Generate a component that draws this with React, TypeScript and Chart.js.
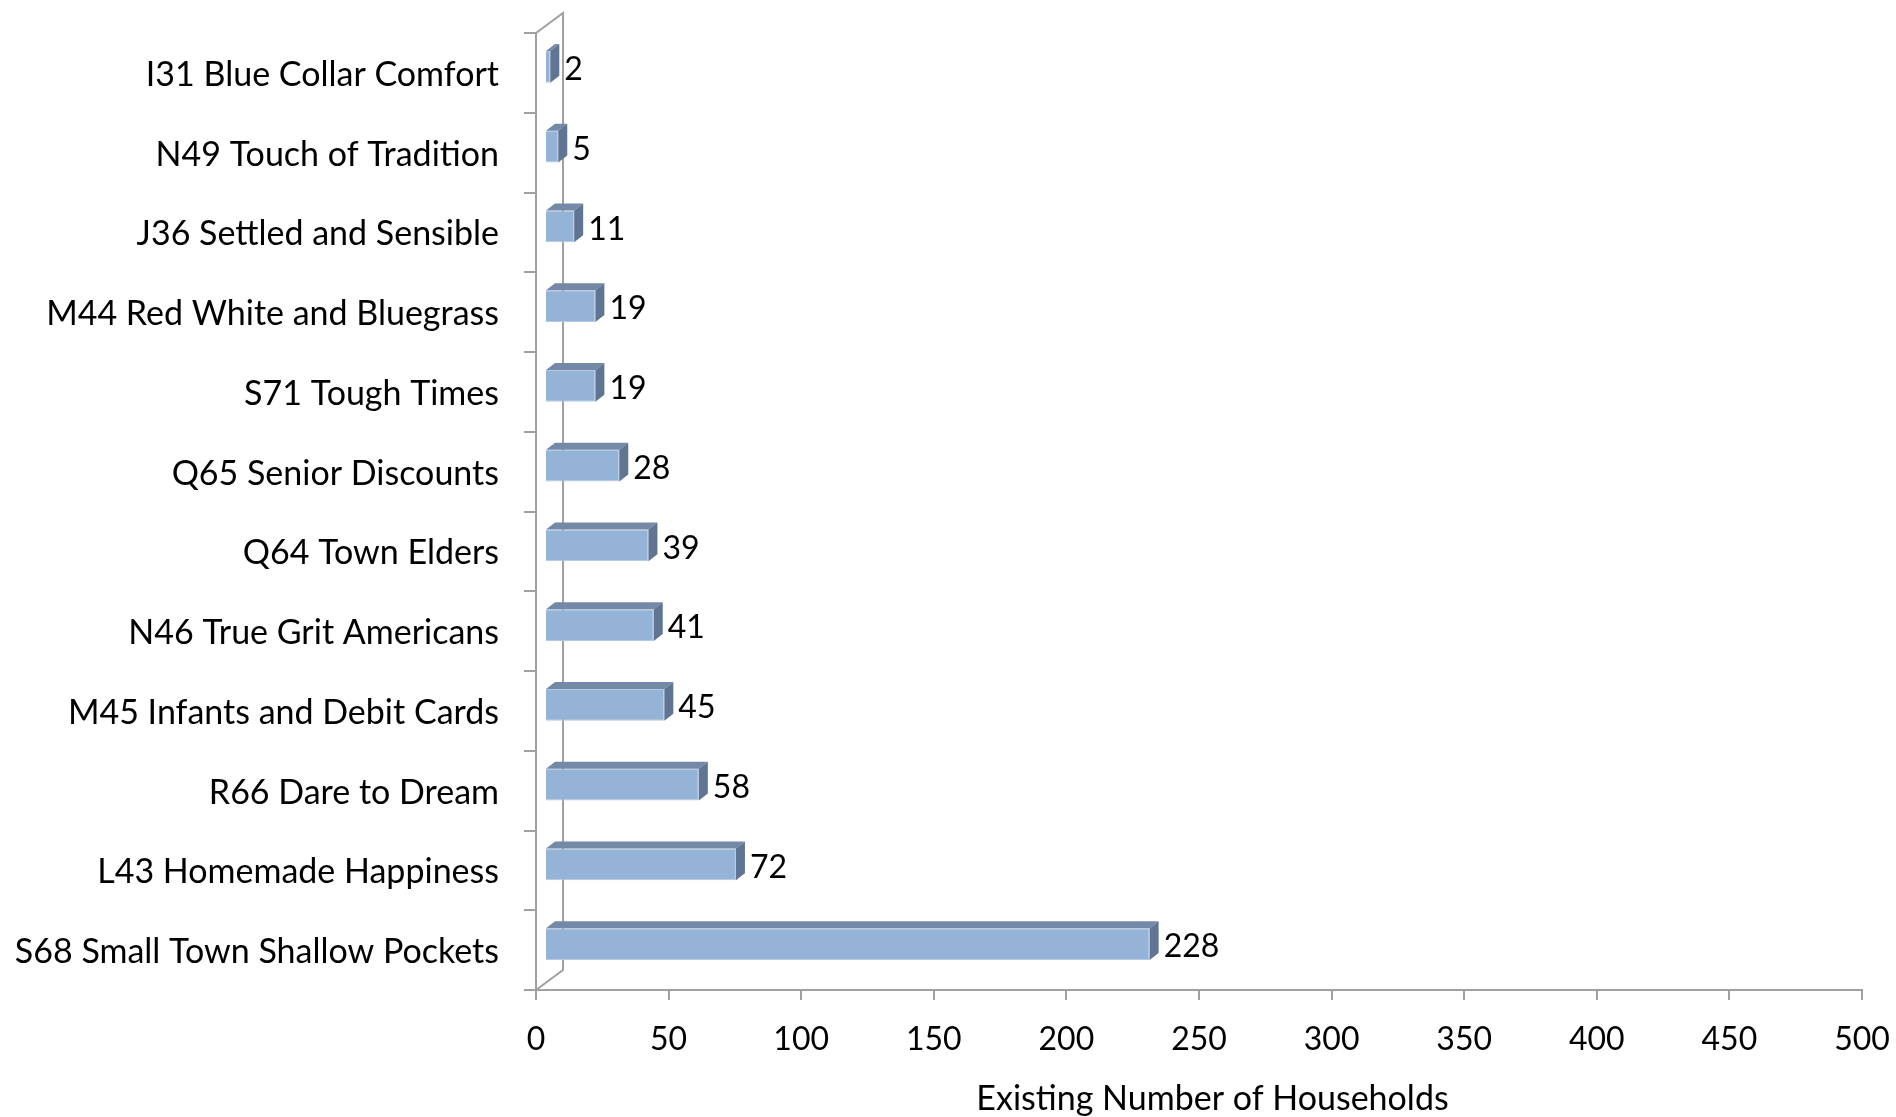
import React, { useEffect, useRef } from "react";
import { Chart, registerables } from "chart.js";

Chart.register(...registerables);

// Tapestry segments, listed top to bottom
const segments = [
  "I31 Blue Collar Comfort",
  "N49 Touch of Tradition",
  "J36 Settled and Sensible",
  "M44 Red White and Bluegrass",
  "S71 Tough Times",
  "Q65 Senior Discounts",
  "Q64 Town Elders",
  "N46 True Grit Americans",
  "M45 Infants and Debit Cards",
  "R66 Dare to Dream",
  "L43 Homemade Happiness",
  "S68 Small Town Shallow Pockets",
];

// Existing households in each segment
const households = [2, 5, 11, 19, 19, 28, 39, 41, 45, 58, 72, 228];

const xMin = 0;
const xMax = 500;
const xStep = 50;
const xAxisTitle = "Existing Number of Households";

const WIDTH = 1896;
const HEIGHT = 1117;
const FONT = "Lato, 'Noto Sans', sans-serif";
const TEXT_SIZE = 34;
const NUM_SIZE = 32;
const AXIS_GRAY = "#a0a0a0";
const FRONT_FILL = "#95b3d7";
const FRONT_EDGE = "#b3c8e2";
const TOP_FILL = "#7489a7";
const SIDE_FILL = "#5f7593";

// Oblique projection used for the 3-D look
const WALL_DX = 27;
const WALL_DY = -20;
const BAR_SHIFT_X = 9;
const BAR_SHIFT_Y = -6;
const BAR_DX = 9;
const BAR_DY = -7;

const depthPlugin = {
  id: "depth3d",
  beforeDatasetsDraw(chart: any) {
    const { ctx, chartArea } = chart;
    const { left, top, bottom } = chartArea;
    // side wall of the plot box
    ctx.save();
    ctx.strokeStyle = AXIS_GRAY;
    ctx.lineWidth = 2;
    ctx.beginPath();
    ctx.moveTo(left, top);
    ctx.lineTo(left + WALL_DX, top + WALL_DY);
    ctx.lineTo(left + WALL_DX, bottom + WALL_DY);
    ctx.lineTo(left, bottom);
    ctx.stroke();
    ctx.restore();
    // bars sit a little behind the front plane
    ctx.save();
    ctx.translate(BAR_SHIFT_X, BAR_SHIFT_Y);
  },
  afterDatasetsDraw(chart: any) {
    const ctx = chart.ctx;
    const meta = chart.getDatasetMeta(0);
    const values = chart.data.datasets[0].data;
    meta.data.forEach((bar: any, i: number) => {
      const { x, y, base, height } = bar.getProps(["x", "y", "base", "height"], true);
      const t = y - height / 2;
      const b = y + height / 2;
      // top face
      ctx.fillStyle = TOP_FILL;
      ctx.beginPath();
      ctx.moveTo(base, t);
      ctx.lineTo(base + BAR_DX, t + BAR_DY);
      ctx.lineTo(x + BAR_DX, t + BAR_DY);
      ctx.lineTo(x, t);
      ctx.closePath();
      ctx.fill();
      // end face
      ctx.fillStyle = SIDE_FILL;
      ctx.beginPath();
      ctx.moveTo(x, t);
      ctx.lineTo(x + BAR_DX, t + BAR_DY);
      ctx.lineTo(x + BAR_DX, b + BAR_DY);
      ctx.lineTo(x, b);
      ctx.closePath();
      ctx.fill();
      // value label
      ctx.fillStyle = "#000";
      ctx.font = `${NUM_SIZE}px ${FONT}`;
      ctx.textAlign = "left";
      ctx.textBaseline = "middle";
      ctx.fillText(String(values[i]), x + BAR_DX + 5, y + 3);
    });
    ctx.restore();
  },
  afterDraw(chart: any) {
    const { ctx, chartArea } = chart;
    ctx.save();
    ctx.fillStyle = "#000";
    ctx.font = `${TEXT_SIZE}px ${FONT}`;
    ctx.textAlign = "center";
    ctx.textBaseline = "middle";
    ctx.fillText(xAxisTitle, (chartArea.left + chartArea.right) / 2 + WALL_DX / 2, 1099);
    ctx.restore();
  },
};

export default function App() {
  const canvasRef = useRef<HTMLCanvasElement | null>(null);

  useEffect(() => {
    if (!canvasRef.current) return;
    const chart = new Chart(canvasRef.current, {
      type: "bar",
      data: {
        labels: segments,
        datasets: [
          {
            data: households,
            backgroundColor: FRONT_FILL,
            borderColor: FRONT_EDGE,
            borderWidth: 1,
            barPercentage: 0.5,
            categoryPercentage: 0.8,
            clip: false as any,
          },
        ],
      },
      options: {
        indexAxis: "y",
        animation: false,
        responsive: false,
        devicePixelRatio: 1,
        layout: { padding: { top: 33, right: 34, left: 0, bottom: 0 } },
        plugins: {
          legend: { display: false },
          tooltip: { enabled: false },
        },
        scales: {
          x: {
            type: "linear",
            min: xMin,
            max: xMax,
            ticks: {
              stepSize: xStep,
              color: "#000",
              font: { family: FONT, size: NUM_SIZE },
              padding: 20,
            },
            grid: {
              drawOnChartArea: false,
              tickLength: 10,
              color: AXIS_GRAY,
              lineWidth: 2,
            },
            border: { color: AXIS_GRAY, width: 2 },
            afterFit: (s: any) => {
              s.height = 127;
              s.paddingLeft = 0;
              s.paddingRight = 0;
            },
          },
          y: {
            type: "category",
            ticks: {
              autoSkip: false,
              color: "#000",
              font: { family: FONT, size: TEXT_SIZE },
              padding: 25,
              labelOffset: 2,
            },
            grid: {
              drawOnChartArea: false,
              tickLength: 12,
              color: AXIS_GRAY,
              lineWidth: 2,
              offset: true,
            },
            border: { color: AXIS_GRAY, width: 2 },
            afterFit: (s: any) => {
              s.width = 536;
              s.paddingTop = 0;
              s.paddingBottom = 0;
            },
          },
        },
      },
      plugins: [depthPlugin],
    });
    return () => chart.destroy();
  }, []);

  return (
    <div style={{ position: "fixed", left: 0, top: 0, width: WIDTH, height: HEIGHT, background: "#fff" }}>
      <canvas ref={canvasRef} width={WIDTH} height={HEIGHT} style={{ display: "block" }} />
    </div>
  );
}
